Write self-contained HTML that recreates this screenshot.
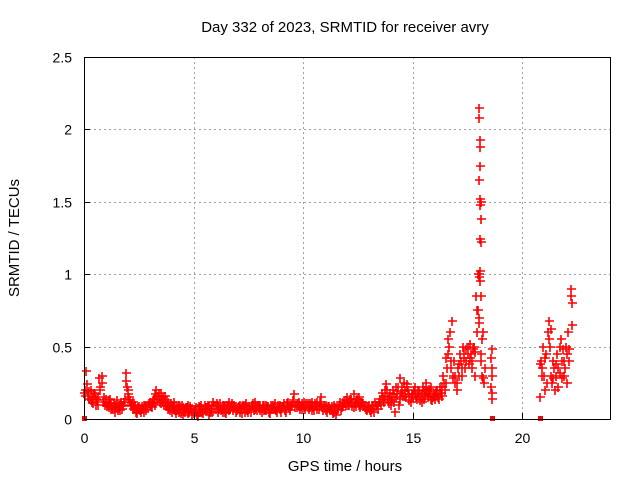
<!DOCTYPE html>
<html><head><meta charset="utf-8"><style>
body{margin:0;background:#fff}
svg{display:block;font-family:"Liberation Sans",sans-serif}
</style></head><body>
<svg id="chart" width="640" height="480">
<rect width="640" height="480" fill="#fff"/>
<g id="grid"></g>
<g id="marks"></g>
<g id="axes"></g>
<text x="345" y="32" text-anchor="middle" font-size="15">Day 332 of 2023, SRMTID for receiver avry</text>
<text x="345" y="471" text-anchor="middle" font-size="15">GPS time / hours</text>
<text transform="translate(19,238) rotate(-90)" text-anchor="middle" font-size="15">SRMTID / TECUs</text>
</svg>
<script>
const xTicks=[0,5,10,15,20];
const yTicks=[0,0.5,1,1.5,2,2.5];
const yTickLabels=["0","0.5","1","1.5","2","2.5"];
const bandStart=0, bandStep=0.1;
const bandA=[0.18,0.33,0.16,0.2,0.15,0.17,0.13,0.28,0.3,0.15,
0.12,0.1,0.14,0.09,0.05,0.11,0.08,0.12,0.1,0.32,
0.2,0.13,0.1,0.08,0.06,0.09,0.05,0.07,0.1,0.08,
0.12,0.08,0.14,0.2,0.15,0.18,0.12,0.16,0.1,0.08,
0.05,0.12,0.04,0.07,0.09,0.03,0.06,0.08,0.05,0.07,
0.04,0.06,0.02,0.08,0.05,0.1,0.06,0.03,0.07,0.12,
0.09,0.05,0.11,0.07,0.1,0.04,0.12,0.08,0.06,0.09,
0.06,0.1,0.04,0.08,0.11,0.05,0.07,0.09,0.12,0.06,
0.08,0.05,0.1,0.06,0.09,0.04,0.07,0.11,0.06,0.08,
0.05,0.09,0.07,0.12,0.06,0.1,0.17,0.08,0.12,0.09,
0.1,0.07,0.11,0.08,0.12,0.06,0.1,0.09,0.15,0.07,
0.08,0.05,0.09,0.06,0.1,0.03,0.07,0.12,0.09,0.13,
0.15,0.1,0.14,0.17,0.09,0.13,0.08,0.12,0.1,0.06,
0.08,0.05,0.1,0.12,0.07,0.14,0.18,0.12,0.24,0.15,
0.1,0.2,0.05,0.17,0.28,0.22,0.25,0.15,0.2,0.12,
0.17,0.22,0.14,0.19,0.12,0.2,0.25,0.15,0.18,0.13,
0.16,0.2,0.14,0.18,0.3,0.25,0.45,0.6,0.68,0.4,
0.2,0.3,0.4,0.5,0.35,0.45,0.52,0.4,0.5,0.85,
0.7,0.45,0.6,0.35];
const bandB=[0.16,0.2,0.14,0.12,0.18,0.1,0.15,0.22,0.12,0.1,
0.09,0.13,0.07,0.11,0.08,0.06,0.1,0.07,0.14,0.22,
0.15,0.09,0.12,0.05,0.08,0.06,0.09,0.1,0.06,0.11,
0.09,0.13,0.1,0.16,0.12,0.14,0.1,0.13,0.07,0.11,
0.08,0.06,0.09,0.05,0.1,0.06,0.08,0.04,0.09,0.05,
0.07,0.03,0.09,0.06,0.04,0.08,0.1,0.05,0.09,0.07,
0.11,0.07,0.06,0.1,0.05,0.08,0.07,0.11,0.08,0.05,
0.09,0.07,0.1,0.05,0.08,0.07,0.1,0.06,0.08,0.09,
0.06,0.1,0.07,0.09,0.05,0.1,0.08,0.06,0.1,0.07,
0.09,0.06,0.11,0.08,0.1,0.13,0.1,0.11,0.07,0.11,
0.08,0.11,0.07,0.1,0.08,0.11,0.07,0.12,0.08,0.1,
0.06,0.09,0.07,0.04,0.08,0.06,0.1,0.08,0.11,0.1,
0.12,0.13,0.09,0.11,0.14,0.1,0.12,0.09,0.07,0.09,
0.06,0.09,0.07,0.1,0.12,0.1,0.15,0.2,0.14,0.18,
0.15,0.12,0.22,0.1,0.18,0.16,0.2,0.24,0.13,0.17,
0.2,0.15,0.18,0.13,0.22,0.16,0.19,0.21,0.14,0.17,
0.19,0.15,0.22,0.16,0.2,0.35,0.5,0.4,0.3,0.25,
0.35,0.45,0.3,0.42,0.48,0.38,0.45,0.48,0.3,0.75,
0.95,0.3,0.25];
const bandC=[0.2,0.24,0.19,0.13,0.11,0.14,0.1,0.2,0.25,0.12,
0.14,0.08,0.11,0.07,0.1,0.13,0.06,0.09,0.12,0.26,
0.17,0.11,0.07,0.1,0.04,0.07,0.08,0.05,0.08,0.1,
0.1,0.11,0.17,0.13,0.18,0.11,0.15,0.09,0.12,0.06,
0.1,0.07,0.06,0.1,0.04,0.08,0.05,0.1,0.07,0.03,
0.06,0.08,0.05,0.1,0.07,0.06,0.08,0.09,0.05,0.1,
0.07,0.1,0.08,0.05,0.09,0.1,0.06,0.09,0.1,0.07,
0.08,0.05,0.09,0.1,0.06,0.09,0.05,0.11,0.07,0.1,
0.1,0.07,0.06,0.1,0.07,0.08,0.1,0.07,0.05,0.1,
0.08,0.11,0.05,0.1,0.09,0.12,0.08,0.1,0.09,0.07,
0.12,0.09,0.08,0.11,0.06,0.1,0.12,0.07,0.1,0.06,
0.1,0.08,0.06,0.09,0.05,0.08,0.1,0.06,0.12,0.11,
0.1,0.14,0.12,0.08,0.12,0.15,0.1,0.11,0.08,0.07,
0.1,0.07,0.05,0.09,0.1,0.12,0.13,0.16,0.2,0.11,
0.13,0.17,0.15,0.22,0.14,0.19,0.16,0.22,0.17,0.15,
0.15,0.18,0.2,0.15,0.17,0.14,0.2,0.18,0.22,0.15,
0.14,0.17,0.2,0.22,0.25,0.42,0.55,0.35,0.28,0.3,
0.25,0.38,0.35,0.45,0.4,0.5,0.42,0.35,0.46,0.6,
1.0,0.4,0.28];
const spikeHours=[18.02,18.04,18.06,18.07,18.05,18.03,18.06,18.08,18.1,18.07,18.12,18.1,18.08,17.98,18.0,18.05,18.12,17.97,18.0,18.15,18.6,18.58,18.62,18.6,18.58,18.63,18.6];
const spikeTec=[2.15,2.08,1.93,1.88,1.75,1.65,1.52,1.48,1.38,1.24,1.22,1.5,1.02,1.0,0.98,0.95,0.85,0.75,0.66,0.55,0.48,0.42,0.35,0.3,0.22,0.18,0.14];
const lateHours=[20.8,20.85,20.9,20.95,21.0,21.05,21.1,21.15,21.2,21.25,21.3,21.35,21.4,21.45,21.5,21.55,21.6,21.65,21.7,21.75,21.8,21.85,21.9,21.95,22.0,22.05,22.1,22.15,22.2,22.22,22.25,22.27,20.82,20.92,21.02,21.12,21.22,21.32,21.42,21.52,21.62,21.72,21.82,21.92,22.02,22.12];
const lateTec=[0.15,0.4,0.35,0.5,0.3,0.2,0.45,0.6,0.68,0.5,0.3,0.25,0.4,0.35,0.2,0.3,0.45,0.35,0.5,0.55,0.4,0.48,0.3,0.35,0.5,0.45,0.6,0.4,0.85,0.9,0.8,0.65,0.38,0.3,0.42,0.25,0.55,0.62,0.28,0.38,0.22,0.32,0.28,0.4,0.25,0.48];
const zeroHours=[0,18.6,20.8];

const X0=84,X1=610,Y0=419,Y1=57,XMAX=24,YMAX=2.5;
const xs=h=>X0+(X1-X0)*h/XMAX;
const ys=v=>Y0-(Y0-Y1)*v/YMAX;
const NS="http://www.w3.org/2000/svg";
function mk(tag,attrs,parent){const e=document.createElementNS(NS,tag);for(const k in attrs)e.setAttribute(k,attrs[k]);parent.appendChild(e);return e;}
const grid=document.getElementById('grid'),marks=document.getElementById('marks'),axes=document.getElementById('axes');
xTicks.forEach((t,i)=>{
  const x=Math.round(xs(t))+0.5;
  if(t>0){const g=mk('line',{x1:x,x2:x,y1:Y1,y2:Y0,stroke:'#a0a0a0','stroke-dasharray':'2,3'},grid);
  
  }
  const tk=mk('line',{x1:x,x2:x,y1:Y0,y2:Y0-6,stroke:'#000'},axes);
  
  
  const tx=mk('text',{x:x,y:443,'text-anchor':'middle','font-size':14},axes);
  tx.textContent=String(t);
  
  
});
yTicks.forEach((t,i)=>{
  const y=Math.round(ys(t))+0.5;
  if(t>0&&t<YMAX){const g=mk('line',{x1:X0,x2:X1,y1:y,y2:y,stroke:'#a0a0a0','stroke-dasharray':'2,3'},grid);
  
  }
  const tk=mk('line',{x1:X0,x2:X0+6,y1:y,y2:y,stroke:'#000'},axes);
  
  
  const tx=mk('text',{x:72,y:y+5,'text-anchor':'end','font-size':14},axes);
  tx.textContent=yTickLabels[i];
  
  
});
const fr=mk('rect',{x:X0+0.5,y:Y1+0.5,width:X1-X0,height:Y0-Y1,fill:'none',stroke:'#000'},axes);


let d='';
function cross(h,v){const x=Math.round(xs(h)),y=Math.round(ys(v));d+=`M${x-4} ${y}h9M${x} ${y-4}v9`;}
bandA.forEach((v,i)=>cross(bandStart+i*bandStep,v));
bandB.forEach((v,i)=>cross(bandStart+0.05+i*bandStep,v));
bandC.forEach((v,i)=>cross(bandStart+0.025+i*bandStep,v));
spikeHours.forEach((h,i)=>cross(h,spikeTec[i]));
lateHours.forEach((h,i)=>cross(h,lateTec[i]));
const p=mk('path',{d:d,stroke:'#ff0000','stroke-width':1.6,fill:'none'},marks);


zeroHours.forEach(h=>{
  const r=mk('rect',{x:Math.round(xs(h))-2,y:Y0-3,width:5,height:5,fill:'#ff0000'},marks);
  
  
});
</script>
</body></html>
